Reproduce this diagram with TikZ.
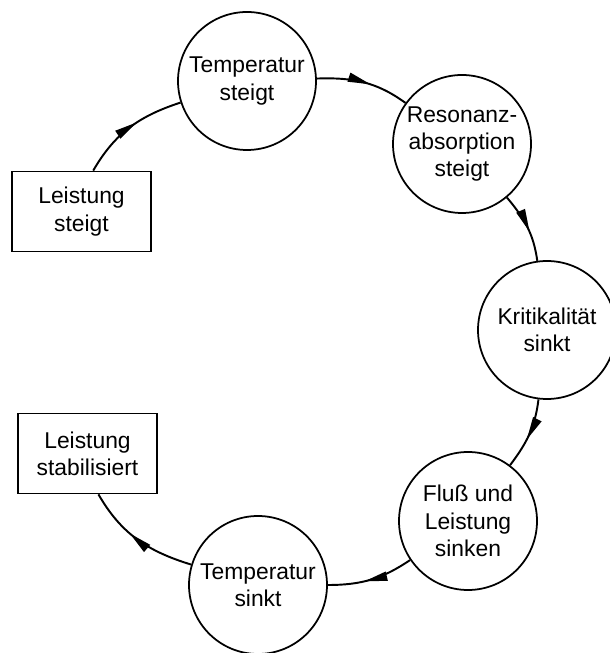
\documentclass[tikz,border=0pt]{standalone}
\usepackage{fontspec}
\setmainfont{Liberation Sans}
\usetikzlibrary{arrows.meta,decorations.markings}

\begin{document}
\begin{tikzpicture}[scale=1,auto=center,
  every node/.style={font=\fontsize{13}{15.5}\selectfont, align=center},
  zustand/.style={draw, circle, line width=1pt, minimum size=2.76cm, inner sep=0pt},
  kasten/.style={draw, rectangle, line width=1pt, minimum width=2.78cm, minimum height=1.6cm, inner sep=0pt},
  pfeil/.style={line width=1.1pt, postaction={decorate},
    decoration={markings, mark=at position 0.58 with {\arrow{Triangle[length=0.46cm,width=0.18cm]}}}}]
  \useasboundingbox (0,0) rectangle (12.18,13.06);
  \node[kasten] (ls) at (1.63,8.83) {Leistung\\steigt};
  \node[zustand] (ts) at (4.94,11.44) {Temperatur\\steigt};
  \node[zustand] (ra) at (9.24,10.18) {Resonanz-\\absorption\\steigt};
  \node[zustand] (ks) at (10.94,6.46) {Kritikalität\\sinkt};
  \node[zustand] (fl) at (9.36,2.64) {Fluß und\\Leistung\\sinken};
  \node[zustand] (tk) at (5.16,1.36) {Temperatur\\sinkt};
  \node[kasten] (lst) at (1.75,3.99) {Leistung\\stabilisiert};
  \draw[pfeil] (ls.74) to[out=60,in=198] (ts);
  \draw[pfeil] (ts) to[out=2,in=144] (ra);
  \draw[pfeil] (ra) to[out=-50,in=98] (ks);
  \draw[pfeil] (ks) to[out=-97,in=53] (fl);
  \draw[pfeil] (fl) to[out=214,in=0] (tk);
  \draw[pfeil] (tk) to[out=163,in=-60] (lst.-75);
\end{tikzpicture}
\end{document}
